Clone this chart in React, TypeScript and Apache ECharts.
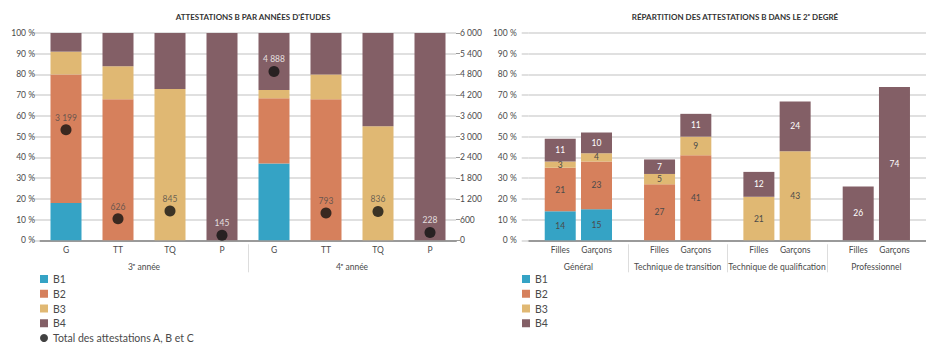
import React, { useEffect, useRef } from "react";
import * as echarts from "echarts";

// ---------- Data ----------
const leftCategories = ["G", "TT", "TQ", "P", "G", "TT", "TQ", "P"];
const yearGroups = ["3\u1D49 année", "4\u1D49 année"];
const leftB1 = [18, null, null, null, 37, null, null, null];
const leftB2 = [62, 68, null, null, 31.5, 68, null, null];
const leftB3 = [11, 16, 73, null, 4, 12, 55, null];
const leftB4 = [9, 16, 27, 100, 27.5, 20, 45, 100];
const totals = [3199, 626, 845, 145, 4888, 793, 836, 228];
const totalsOnDark = [false, false, false, true, true, false, false, true];

const rightGroups = [
  "Général",
  "Technique de transition",
  "Technique de qualification",
  "Professionnel",
];
const fillesB1 = [14, null, null, null];
const fillesB2 = [21, 27, null, null];
const fillesB3 = [3, 5, 21, null];
const fillesB4 = [11, 7, 12, 26];
const garconsB1 = [15, null, null, null];
const garconsB2 = [23, 41, null, null];
const garconsB3 = [4, 9, 43, null];
const garconsB4 = [10, 11, 24, 74];

const pctTicks = { min: 0, max: 100, interval: 10 };
const countTicks = { min: 0, max: 6000, interval: 600 };

const seriesNames = ["B1", "B2", "B3", "B4"];
const totalName = "Total des attestations A, B et C";

// ---------- Styles ----------
const COLORS = ["#35a3c5", "#d6805c", "#e0b873", "#835f66"];
const FONT = "Lato, 'Noto Sans', sans-serif";
const TEXT = "#4a4a4a";
const GRID = "#d6d6d6";
const AXIS = "#9a9a9a";

const fmt = (n: number) =>
  String(n).replace(/\B(?=(\d{3})+(?!\d))/g, " ");

export default function App() {
  const ref = useRef<HTMLDivElement>(null);

  useEffect(() => {
    if (!ref.current) return;
    const chart = echarts.init(ref.current, undefined, { renderer: "svg" });

    const gridTop = 33;
    const gridH = 207.3;

    const yPct = (gridIndex: number, showLabel: boolean) => ({
      type: "value",
      gridIndex,
      ...pctTicks,
      axisLine: { show: false },
      axisTick: {
        show: true,
        length: 7,
        lineStyle: { color: GRID, width: 1.5 },
      },
      axisLabel: {
        show: showLabel,
        formatter: "{value} %",
        color: TEXT,
        fontFamily: FONT,
        fontSize: 8.5,
        margin: gridIndex === 0 ? 5 : 12,
      },
      splitLine: { lineStyle: { color: GRID, width: 1.5 } },
    });

    const leftBars = [leftB1, leftB2, leftB3, leftB4].map((d, i) => ({
      name: seriesNames[i],
      type: "bar",
      stack: "left",
      xAxisIndex: 0,
      yAxisIndex: 0,
      barWidth: 31,
      itemStyle: { color: COLORS[i] },
      data: d,
    }));

    const makeRight = (arrs: (number | null)[][], stack: string) =>
      arrs.map((d, i) => ({
        name: seriesNames[i],
        type: "bar",
        stack,
        xAxisIndex: 2,
        yAxisIndex: 2,
        barWidth: 31,
        barGap: "17%",
        itemStyle: { color: COLORS[i] },
        label: {
          show: true,
          position: "inside",
          color: i === 3 ? "#ffffff" : TEXT,
          fontFamily: FONT,
          fontSize: 8.5,
        },
        data: d,
      }));

    const legendText = {
      color: TEXT,
      fontFamily: FONT,
      fontSize: 10.5,
      lineHeight: 11,
    };

    const option: any = {
      animation: false,
      backgroundColor: "#ffffff",
      textStyle: { fontFamily: FONT },
      title: [
        {
          text: "ATTESTATIONS B PAR ANNÉES D'ÉTUDES",
          left: 248,
          textAlign: "center",
          top: 8,
          textStyle: {
            fontFamily: FONT,
            fontWeight: "bold",
            fontSize: 8,
            color: "#333",
          },
        },
        {
          text: "RÉPARTITION DES ATTESTATIONS B DANS LE 2\u1D49 DEGRÉ",
          left: 730,
          textAlign: "center",
          top: 8,
          textStyle: {
            fontFamily: FONT,
            fontWeight: "bold",
            fontSize: 8,
            color: "#333",
          },
        },
      ],
      legend: [
        {
          orient: "vertical",
          left: 40,
          top: 273.5,
          padding: 0,
          itemWidth: 8,
          itemHeight: 8,
          itemGap: 3.75,
          data: [
            ...seriesNames.map((n) => ({ name: n, icon: "rect" })),
            { name: totalName, icon: "circle" },
          ],
          textStyle: legendText,
        },
        {
          orient: "vertical",
          left: 522,
          top: 273.5,
          padding: 0,
          itemWidth: 8,
          itemHeight: 8,
          itemGap: 3.75,
          data: seriesNames.map((n) => ({ name: n, icon: "rect" })),
          textStyle: legendText,
        },
      ],
      grid: [
        { left: 40, top: gridTop, width: 416, height: gridH },
        { left: 528.7, top: gridTop, width: 403, height: gridH },
      ],
      xAxis: [
        {
          type: "category",
          gridIndex: 0,
          data: leftCategories,
          axisLine: { lineStyle: { color: AXIS, width: 2 } },
          axisTick: { show: false },
          axisLabel: {
            color: TEXT,
            fontFamily: FONT,
            fontSize: 8.5,
            margin: 5,
            interval: 0,
          },
        },
        {
          type: "category",
          gridIndex: 0,
          position: "bottom",
          data: yearGroups,
          axisLine: { show: false },
          axisTick: { show: false },
          axisLabel: {
            color: TEXT,
            fontFamily: FONT,
            fontSize: 8.5,
            margin: 22,
            interval: 0,
          },
        },
        {
          type: "category",
          gridIndex: 1,
          data: rightGroups,
          axisLine: { lineStyle: { color: AXIS, width: 2 } },
          axisTick: { show: false },
          axisLabel: {
            interval: 0,
            formatter: () => "{f|Filles}{g|Garçons}",
            margin: 5,
            rich: {
              f: {
                width: 36.4,
                align: "center",
                color: TEXT,
                fontFamily: FONT,
                fontSize: 8.5,
              },
              g: {
                width: 36.4,
                align: "center",
                color: TEXT,
                fontFamily: FONT,
                fontSize: 8.5,
              },
            },
          },
        },
        {
          type: "category",
          gridIndex: 1,
          position: "bottom",
          data: rightGroups,
          axisLine: { show: false },
          axisTick: { show: false },
          axisLabel: {
            color: TEXT,
            fontFamily: FONT,
            fontSize: 8.5,
            margin: 22,
            interval: 0,
          },
        },
      ],
      yAxis: [
        yPct(0, true),
        {
          type: "value",
          gridIndex: 0,
          position: "right",
          ...countTicks,
          axisLine: { show: false },
          axisTick: {
            show: true,
            length: 4,
            lineStyle: { color: AXIS, width: 1 },
          },
          splitLine: { show: false },
          axisLabel: {
            color: TEXT,
            fontFamily: FONT,
            fontSize: 8.5,
            margin: 4,
            formatter: (v: number) => fmt(v),
          },
        },
        yPct(1, true),
      ],
      series: [
        ...leftBars,
        {
          name: totalName,
          type: "scatter",
          xAxisIndex: 0,
          yAxisIndex: 1,
          symbolSize: 11,
          itemStyle: { color: "#111111" },
          z: 5,
          data: totals.map((v, i) => ({
            value: v,
            label: {
              show: true,
              position: "top",
              distance: 2,
              formatter: () => fmt(v),
              color: totalsOnDark[i] ? "#ffffff" : TEXT,
              fontFamily: FONT,
              fontSize: 8.5,
            },
          })),
        },
        ...makeRight([fillesB1, fillesB2, fillesB3, fillesB4], "filles"),
        ...makeRight([garconsB1, garconsB2, garconsB3, garconsB4], "garcons"),
      ],
    };

    chart.setOption(option);

    // Group separators below the axes, positioned from the chart's own scales
    const y0 = chart.convertToPixel({ yAxisIndex: 0 }, 0) as number;
    const sepLine = (x: number) => ({
      type: "line",
      silent: true,
      shape: { x1: x, y1: y0 + 4, x2: x, y2: y0 + 32 },
      style: { stroke: "#dddddd", lineWidth: 1 },
    });
    const graphics: any[] = [];
    for (let i = 1; i < yearGroups.length; i++) {
      const a = chart.convertToPixel({ xAxisIndex: 1 }, i - 1) as number;
      const b = chart.convertToPixel({ xAxisIndex: 1 }, i) as number;
      graphics.push(sepLine(Math.round((a + b) / 2) + 0.5));
    }
    for (let i = 1; i < rightGroups.length; i++) {
      const a = chart.convertToPixel({ xAxisIndex: 2 }, i - 1) as number;
      const b = chart.convertToPixel({ xAxisIndex: 2 }, i) as number;
      graphics.push(sepLine(Math.round((a + b) / 2) + 0.5));
    }
    chart.setOption({ graphic: graphics });

    return () => chart.dispose();
  }, []);

  return (
    <div
      ref={ref}
      style={{
        position: "absolute",
        left: 0,
        top: 0,
        width: 926,
        height: 347,
        background: "#ffffff",
      }}
    />
  );
}
